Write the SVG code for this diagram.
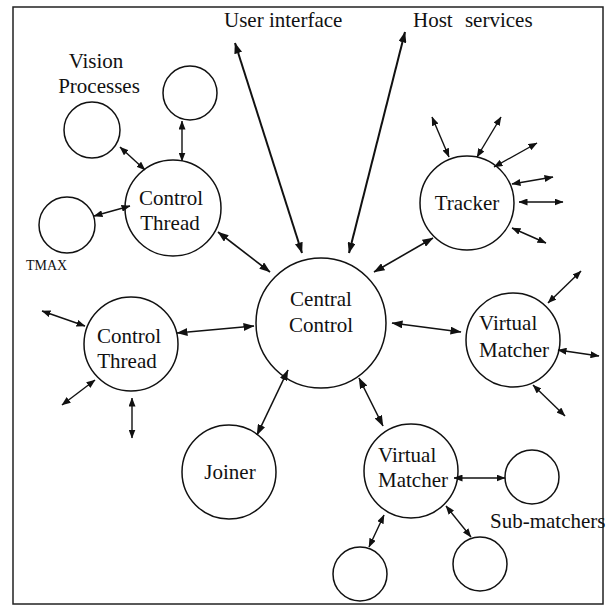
<svg xmlns="http://www.w3.org/2000/svg" width="612" height="609" viewBox="0 0 612 609">
<defs>
<style>
.n{fill:none;stroke:#111;stroke-width:1.5}
.t{font-family:"Liberation Serif","Times New Roman",serif;font-size:21px;fill:#111}
.c line{stroke:#111;stroke-width:1.6;marker-start:url(#a);marker-end:url(#a)}
.c line.s{marker-start:url(#b);marker-end:url(#b);stroke-width:1.4}
.c line.w{stroke-width:2}
</style>
<marker id="a" viewBox="0 0 11 8" refX="10.5" refY="4" markerWidth="11" markerHeight="8" markerUnits="userSpaceOnUse" orient="auto-start-reverse"><path d="M0,0 L11,4 L0,8 z" fill="#111"/></marker>
<marker id="b" viewBox="0 0 9 7" refX="8.5" refY="3.5" markerWidth="9" markerHeight="7" markerUnits="userSpaceOnUse" orient="auto-start-reverse"><path d="M0,0 L9,3.5 L0,7 z" fill="#111"/></marker>
</defs>
<rect x="0" y="0" width="612" height="609" fill="#fff"/>
<rect x="13" y="7" width="590" height="597" fill="none" stroke="#222" stroke-width="1.5"/>
<text class="t" x="224" y="27">User interface</text>
<text class="t" x="413" y="27" word-spacing="7">Host services</text>

<g id="central"><circle class="n" cx="321" cy="323" r="65"/><text class="t" x="321" y="306" text-anchor="middle">Central</text><text class="t" x="321" y="332" text-anchor="middle">Control</text></g>
<g id="ctrl-top"><circle class="n" cx="173" cy="208" r="48"/><text class="t" x="171" y="205" text-anchor="middle">Control</text><text class="t" x="170" y="230" text-anchor="middle">Thread</text></g>
<g id="vision-label"><text class="t" x="96" y="68" text-anchor="middle">Vision</text><text class="t" x="99" y="93" text-anchor="middle">Processes</text></g>
<g id="vp1"><circle class="n" cx="190" cy="93" r="27"/></g>
<g id="vp2"><circle class="n" cx="92" cy="130" r="28"/></g>
<g id="tmax"><circle class="n" cx="67" cy="225" r="28"/><text class="t" x="26" y="270" style="font-size:14px">TMAX</text></g>
<g id="tracker"><circle class="n" cx="467" cy="203" r="47"/><text class="t" x="467" y="210" text-anchor="middle">Tracker</text></g>
<g id="vm-right"><circle class="n" cx="513" cy="340" r="47"/><text class="t" x="479" y="330">Virtual</text><text class="t" x="479" y="357">Matcher</text></g>
<g id="vm-bottom"><circle class="n" cx="411" cy="471" r="47"/><text class="t" x="378" y="462">Virtual</text><text class="t" x="378" y="487">Matcher</text></g>
<g id="sub1"><circle class="n" cx="532" cy="477" r="27"/></g>
<g id="sub2"><circle class="n" cx="360" cy="574" r="27"/></g>
<g id="sub3"><circle class="n" cx="480" cy="564" r="27"/></g>
<g id="sub-label"><text class="t" x="490" y="528">Sub-matchers</text></g>
<g id="ctrl-left"><circle class="n" cx="131" cy="344" r="47"/><text class="t" x="129" y="343" text-anchor="middle">Control</text><text class="t" x="127" y="368" text-anchor="middle">Thread</text></g>
<g id="joiner"><circle class="n" cx="229" cy="472" r="47"/><text class="t" x="230" y="479" text-anchor="middle">Joiner</text></g>

<g id="connectors" class="c">
<line class="w" x1="235" y1="43" x2="302" y2="253"/>
<line class="w" x1="405" y1="32" x2="349" y2="253"/>
<line x1="218" y1="232" x2="270" y2="272"/>
<line class="s" x1="120" y1="147" x2="145" y2="170"/>
<line class="s" x1="182" y1="121" x2="182" y2="161"/>
<line class="s" x1="94" y1="216" x2="130" y2="206"/>
<line x1="433" y1="238" x2="374" y2="272"/>
<line class="s" x1="432" y1="117" x2="449" y2="157"/>
<line class="s" x1="501" y1="117" x2="477" y2="157"/>
<line class="s" x1="537" y1="143" x2="494" y2="167"/>
<line class="s" x1="553" y1="177" x2="512" y2="184"/>
<line class="s" x1="563" y1="202" x2="519" y2="202"/>
<line class="s" x1="546" y1="243" x2="512" y2="228"/>
<line x1="392" y1="323" x2="461" y2="332"/>
<line class="s" x1="548" y1="303" x2="581" y2="271"/>
<line class="s" x1="558" y1="350" x2="599" y2="356"/>
<line class="s" x1="533" y1="385" x2="565" y2="416"/>
<line x1="359" y1="378" x2="383" y2="426"/>
<line class="s" x1="454" y1="478" x2="505" y2="478"/>
<line class="s" x1="384" y1="515" x2="369" y2="547"/>
<line class="s" x1="446" y1="506" x2="471" y2="537"/>
<line x1="177" y1="333" x2="254" y2="326"/>
<line class="s" x1="42" y1="311" x2="85" y2="326"/>
<line class="s" x1="62" y1="405" x2="95" y2="380"/>
<line class="s" x1="132" y1="398" x2="132" y2="438"/>
<line x1="257" y1="435" x2="288" y2="370"/>
</g>
</svg>
